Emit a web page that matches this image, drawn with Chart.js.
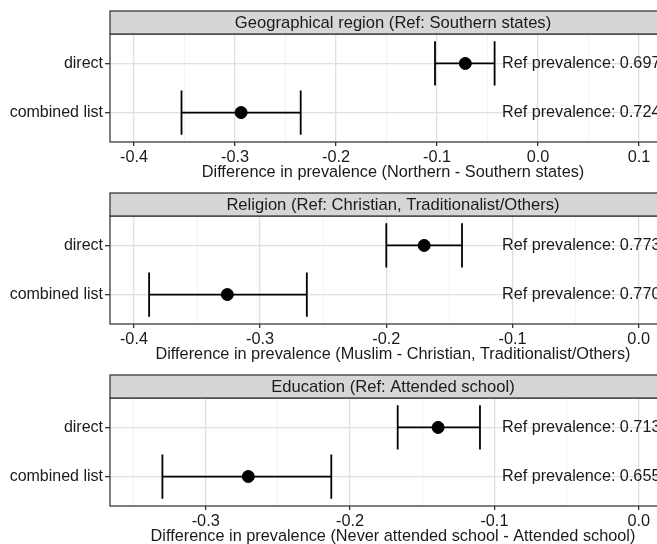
<!DOCTYPE html>
<html>
<head>
<meta charset="utf-8">
<script src="https://cdn.jsdelivr.net/npm/chart.js@4"></script>
<style>
  body { margin: 0; background: #fff; overflow: hidden; width: 657px; height: 544px; }
  canvas { position: absolute; left: 0; }
</style>
</head>
<body>
<canvas id="panel1" width="690" height="182" style="top:0px"></canvas>
<canvas id="panel2" width="690" height="182" style="top:182px"></canvas>
<canvas id="panel3" width="690" height="182" style="top:364px"></canvas>
<script>
// categorias (eixo y)
const categories = ['direct', 'combined list'];

// painel 1: região
const title1 = 'Geographical region (Ref: Southern states)';
const axis1 = 'Difference in prevalence (Northern - Southern states)';
const est1 = [-0.072, -0.294];
const low1 = [-0.102, -0.353];
const high1 = [-0.043, -0.235];
const ref1 = ['0.697', '0.724'];
const grid1 = [-0.4, -0.35, -0.3, -0.25, -0.2, -0.15, -0.1, -0.05, 0.0, 0.05, 0.1];

// painel 2: religião
const title2 = 'Religion (Ref: Christian, Traditionalist/Others)';
const axis2 = 'Difference in prevalence (Muslim - Christian, Traditionalist/Others)';
const est2 = [-0.170, -0.326];
const low2 = [-0.200, -0.388];
const high2 = [-0.140, -0.263];
const ref2 = ['0.773', '0.770'];
const grid2 = [-0.4, -0.35, -0.3, -0.25, -0.2, -0.15, -0.1, -0.05, 0.0];

// painel 3: educação
const title3 = 'Education (Ref: Attended school)';
const axis3 = 'Difference in prevalence (Never attended school - Attended school)';
const est3 = [-0.139, -0.2705];
const low3 = [-0.167, -0.330];
const high3 = [-0.110, -0.213];
const ref3 = ['0.713', '0.655'];
const grid3 = [-0.35, -0.3, -0.25, -0.2, -0.15, -0.1, -0.05, 0.0];

// limites dos eixos x
const limites1 = [-0.4238, 0.1366];
const limites2 = [-0.419, 0.0296];
const limites3 = [-0.3663, 0.0258];

const fonte = "'Liberation Sans', Arial, sans-serif";
const corTexto = '#1a1a1a';

function ehMajor(v) {
    return Math.abs(Math.round(v * 10) - v * 10) < 1e-6;
}

// faixa cinza, barras de erro, borda e textos
const extras = {
    id: 'extras',
    beforeDatasetsDraw(chart, args, opts) {
        const ctx = chart.ctx;
        const x = chart.scales.x, y = chart.scales.y;
        ctx.save();
        ctx.strokeStyle = '#000';
        ctx.lineWidth = 1.8;
        opts.est.forEach((e, i) => {
            const py = y.getPixelForValue(i + 1);
            const cap = Math.abs(y.getPixelForValue(i + 1 + 0.45) - py);
            const x0 = x.getPixelForValue(opts.low[i]);
            const x1 = x.getPixelForValue(opts.high[i]);
            ctx.beginPath();
            ctx.moveTo(x0, py); ctx.lineTo(x1, py);
            ctx.moveTo(x0, py - cap); ctx.lineTo(x0, py + cap);
            ctx.moveTo(x1, py - cap); ctx.lineTo(x1, py + cap);
            ctx.stroke();
        });
        ctx.restore();
    },
    afterDraw(chart, args, opts) {
        const ctx = chart.ctx;
        const a = chart.chartArea;
        const y = chart.scales.y;
        ctx.save();
        // borda do painel
        ctx.strokeStyle = '#3a3a3a';
        ctx.lineWidth = 1.3;
        ctx.strokeRect(a.left, a.top, a.right - a.left, a.bottom - a.top);
        // faixa do título
        ctx.fillStyle = '#d6d6d6';
        ctx.fillRect(a.left, a.top - 23, a.right - a.left, 23);
        ctx.strokeRect(a.left, a.top - 23, a.right - a.left, 23);
        ctx.fillStyle = corTexto;
        ctx.font = '16.6px ' + fonte;
        ctx.textAlign = 'center';
        ctx.textBaseline = 'middle';
        ctx.fillText(opts.titulo, (a.left + a.right) / 2, a.top - 11);
        // textos de prevalência
        ctx.font = '16.2px ' + fonte;
        ctx.textAlign = 'left';
        opts.ref.forEach((r, i) => {
            ctx.fillText('Ref prevalence: ' + r, a.left + 392, y.getPixelForValue(i + 1));
        });
        ctx.restore();
    }
};

function criarPainel(id, titulo, eixo, est, low, high, ref, grid, limites) {
    new Chart(document.getElementById(id), {
        type: 'scatter',
        data: {
            datasets: [{
                data: est.map((v, i) => ({ x: v, y: i + 1 })),
                backgroundColor: '#000',
                borderColor: '#000',
                pointRadius: 6,
                pointHoverRadius: 6
            }]
        },
        options: {
            responsive: false,
            animation: false,
            events: [],
            layout: { padding: { top: 34, right: 14, left: 0, bottom: 0 } },
            plugins: {
                legend: { display: false },
                tooltip: { enabled: false },
                extras: { titulo, est, low, high, ref }
            },
            scales: {
                x: {
                    type: 'linear',
                    min: limites[0],
                    max: limites[1],
                    afterBuildTicks: s => { s.ticks = grid.map(v => ({ value: v })); },
                    afterFit: s => { s.height = 40; },
                    border: { display: false },
                    grid: {
                        color: c => ehMajor(c.tick.value) ? '#e0e0e0' : '#f0f0f0',
                        lineWidth: c => ehMajor(c.tick.value) ? 1.3 : 0.8,
                        tickColor: c => ehMajor(c.tick.value) ? '#333' : 'rgba(0,0,0,0)',
                        tickLength: 4
                    },
                    ticks: {
                        autoSkip: false,
                        maxRotation: 0,
                        padding: 2,
                        color: corTexto,
                        font: { family: fonte, size: 16.3 },
                        callback: v => ehMajor(v) ? v.toFixed(1) : ''
                    },
                    title: {
                        display: true,
                        text: eixo,
                        color: corTexto,
                        font: { family: fonte, size: 16.3 },
                        padding: { top: 0, bottom: 0 }
                    }
                },
                y: {
                    type: 'linear',
                    reverse: true,
                    min: 0.4,
                    max: 2.6,
                    afterBuildTicks: s => { s.ticks = categories.map((c, i) => ({ value: i + 1 })); },
                    afterFit: s => { s.width = 110; },
                    border: { display: false },
                    grid: {
                        color: '#e0e0e0',
                        lineWidth: 1.3,
                        tickColor: '#333',
                        tickLength: 5
                    },
                    ticks: {
                        padding: 2,
                        color: corTexto,
                        font: { family: fonte, size: 16 },
                        callback: v => categories[v - 1]
                    }
                }
            }
        },
        plugins: [extras]
    });
}

criarPainel('panel1', title1, axis1, est1, low1, high1, ref1, grid1, limites1);
criarPainel('panel2', title2, axis2, est2, low2, high2, ref2, grid2, limites2);
criarPainel('panel3', title3, axis3, est3, low3, high3, ref3, grid3, limites3);
</script>
</body>
</html>
